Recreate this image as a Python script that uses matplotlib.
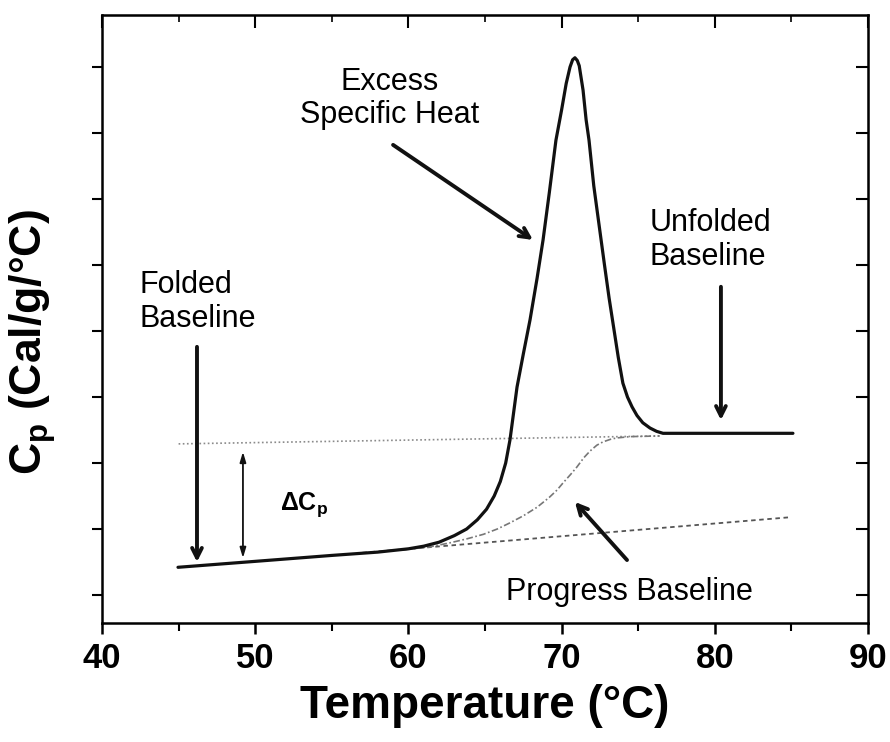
import matplotlib
matplotlib.use("Agg")
import matplotlib.pyplot as plt
from matplotlib.ticker import MultipleLocator, NullFormatter

plt.rcParams['font.family'] = ['Liberation Sans', 'DejaVu Sans']
plt.rcParams['mathtext.fontset'] = 'custom'
plt.rcParams['mathtext.rm'] = 'Liberation Sans'
plt.rcParams['mathtext.bf'] = 'Liberation Sans:bold'

# measured heat capacity trace
temp_obs = [44.96, 50.0, 55.0, 58.0, 60.0, 61.0, 62.0, 63.0, 63.8, 64.5, 65.1, 65.6,
            66.0, 66.35, 66.63, 67.09, 67.5, 67.94, 68.4, 68.79, 69.2, 69.63, 70.0,
            70.3, 70.55, 70.72, 70.87, 71.02, 71.15, 71.4, 71.6, 71.79, 72.1, 72.45,
            72.8, 73.1, 73.4, 73.7, 74.0, 74.3, 74.6, 74.92, 75.3, 75.77, 76.2,
            76.62, 85.1]
cp_obs = [0.42, 0.51, 0.60, 0.65, 0.70, 0.74, 0.80, 0.90, 1.00, 1.14, 1.30, 1.50,
          1.72, 2.00, 2.35, 3.15, 3.65, 4.17, 4.80, 5.38, 6.10, 6.89, 7.35,
          7.75, 8.00, 8.11, 8.14, 8.10, 8.02, 7.65, 7.20, 6.89, 6.20, 5.60,
          5.00, 4.50, 4.05, 3.60, 3.21, 3.00, 2.85, 2.72, 2.61, 2.53, 2.48,
          2.45, 2.45]

# baselines
unfolded_t = [45.0, 76.4]
unfolded_cp = [2.29, 2.41]
folded_t = [57.0, 85.0]
folded_cp = [0.64, 1.18]
progress_t = [59.5, 61.4, 62.7, 63.8, 64.9, 65.8, 66.6, 67.5, 68.4, 69.2, 69.7,
              70.1, 70.6, 71.0, 71.45, 71.85, 72.3, 72.7, 73.2, 73.6, 74.5, 76.4]
progress_cp = [0.68, 0.73, 0.79, 0.85, 0.92, 1.00, 1.09, 1.20, 1.33, 1.48, 1.59,
               1.70, 1.83, 1.94, 2.08, 2.18, 2.27, 2.32, 2.36, 2.38, 2.40, 2.41]

x_ticks = [40, 50, 60, 70, 80, 90]
y_ticks = [0, 1, 2, 3, 4, 5, 6, 7, 8]

fig = plt.figure(figsize=(8.9, 7.42), dpi=100)
ax = fig.add_axes([102 / 890, 1 - 623 / 742, 766 / 890, 608 / 742])

ax.plot(unfolded_t, unfolded_cp, color='#8a8a8a', lw=1.2, linestyle=(0, (1, 1.5)))
ax.plot(folded_t, folded_cp, color='#555555', lw=1.3, linestyle=(0, (2.5, 2)))
ax.plot(progress_t, progress_cp, color='#777777', lw=1.2, linestyle=(0, (4, 1.5, 1, 1.5)))
ax.plot(temp_obs, cp_obs, color='#111111', lw=2.3, solid_capstyle='round',
        solid_joinstyle='round')

ax.set_xlim(40, 90)
ax.set_ylim(-0.424, 8.788)
ax.set_xticks(x_ticks)
ax.xaxis.set_minor_locator(MultipleLocator(5))
ax.set_yticks(y_ticks)
ax.yaxis.set_major_formatter(NullFormatter())
for s in ax.spines.values():
    s.set_linewidth(1.8)
ax.tick_params(axis='x', which='major', direction='out', length=8, width=1.8,
               labelsize=25, pad=6)
ax.tick_params(axis='x', which='minor', direction='out', length=6, width=1.5)
ax.tick_params(axis='y', which='major', direction='out', length=7, width=1.5)
for lbl in ax.get_xticklabels():
    lbl.set_fontweight('bold')

# top and right ticks point inward
top = ax.secondary_xaxis('top')
top.set_xticks(x_ticks)
top.xaxis.set_minor_locator(MultipleLocator(5))
top.tick_params(which='major', direction='in', length=9, width=1.5, labeltop=False)
top.tick_params(which='minor', direction='in', length=5, width=1.2)
right = ax.secondary_yaxis('right')
right.set_yticks(y_ticks)
right.tick_params(direction='in', length=9, width=1.5, labelright=False)

ax.set_xlabel('Temperature (°C)', fontsize=33, fontweight='bold', labelpad=6)
fig.text(33 / 890, 1 - 342 / 742, r'C$_{\mathbf{p}}$ (Cal/g/°C)', rotation=90,
         fontsize=32, fontweight='bold', ha='center', va='center')

# annotations
fs = 22
ax.text(58.8, 8.0, 'Excess\nSpecific Heat', fontsize=fs, ha='center', va='top',
        linespacing=1.15)
ax.text(75.77, 5.86, 'Unfolded\nBaseline', fontsize=fs, ha='left', va='top',
        linespacing=1.15)
ax.text(42.48, 4.92, 'Folded\nBaseline', fontsize=fs, ha='left', va='top',
        linespacing=1.15)
ax.text(74.4, 0.27, 'Progress Baseline', fontsize=fs, ha='center', va='top')
ax.text(51.6, 1.29, r'ΔC$_{\mathbf{p}}$', fontsize=18, fontweight='bold',
        ha='left', va='baseline')

big = dict(arrowstyle='->, head_length=0.7, head_width=0.35', lw=2.8,
           color='#111111', shrinkA=0, shrinkB=0)
ax.annotate('', xy=(68.13, 5.38), xytext=(59.0, 6.82), arrowprops=big)
ax.annotate('', xy=(80.4, 2.65), xytext=(80.4, 4.67), arrowprops=big)
ax.annotate('', xy=(46.2, 0.50), xytext=(46.2, 3.76), arrowprops=big)
ax.annotate('', xy=(70.87, 1.41), xytext=(74.27, 0.53), arrowprops=big)
ax.annotate('', xy=(49.2, 0.56), xytext=(49.2, 2.17),
            arrowprops=dict(arrowstyle='<|-|>, head_length=0.6, head_width=0.18',
                            lw=1.3, color='#111111', shrinkA=0, shrinkB=0))

fig.savefig('out.png', dpi=100)
